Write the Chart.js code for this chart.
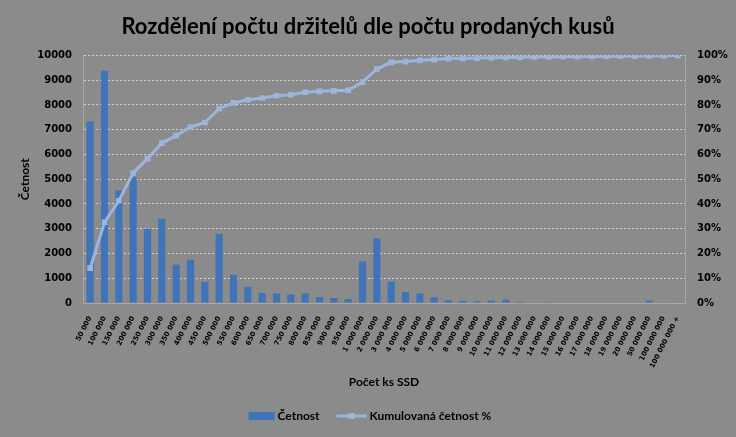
<!DOCTYPE html>
<html>
<head>
<meta charset="utf-8">
<script src="https://cdn.jsdelivr.net/npm/chart.js@4/dist/chart.umd.min.js"></script>
<style>
    html, body { margin: 0; padding: 0; background: #8b8b8b; }
    #wrap { width: 736px; height: 437px; }
    canvas { background: #8b8b8b; }
</style>
</head>
<body>
<div id="wrap"><canvas id="chart" width="736" height="437"></canvas></div>
<script>
// kategorie na ose x (počet ks SSD)
const categories = [
    '50 000', '100 000', '150 000', '200 000', '250 000', '300 000', '350 000',
    '400 000', '450 000', '500 000', '550 000', '600 000', '650 000', '700 000',
    '750 000', '800 000', '850 000', '900 000', '950 000', '1 000 000',
    '2 000 000', '3 000 000', '4 000 000', '5 000 000', '6 000 000', '7 000 000',
    '8 000 000', '9 000 000', '10 000 000', '11 000 000', '12 000 000', '13 000 000',
    '14 000 000', '15 000 000', '16 000 000', '17 000 000', '18 000 000', '19 000 000',
    '20 000 000', '50 000 000', '100 000 000', '100 000 000 +'
];

// četnost
const counts = [
    7330, 9380, 4540, 5080, 3000, 3400, 1550, 1750, 860, 2800, 1140, 660, 400, 380,
    340, 380, 240, 200, 160, 1680, 2600, 870, 440, 380, 230, 110, 90, 70, 100, 130,
    40, 30, 30, 25, 25, 25, 20, 20, 20, 100, 30, 20
];

// kumulovaná četnost v %
const cumulative = [
    14.1, 32.6, 41.3, 52.5, 58.3, 64.6, 67.6, 71.1, 72.9, 78.5, 80.8, 82.1, 82.8, 83.7,
    84.1, 85.1, 85.5, 85.7, 85.9, 89.2, 94.5, 97.2, 97.5, 98.0, 98.3, 98.7, 98.8, 98.9,
    99.1, 99.2, 99.3, 99.4, 99.4, 99.5, 99.5, 99.6, 99.6, 99.7, 99.7, 99.8, 99.9, 100
];

const colors = {
    bar: '#3f74b9',
    line: '#9bb5dd',
    grid: 'rgba(225,225,225,0.85)',
    axis: '#a8a8a8',
    text: '#000000'
};

const tickFont = { family: 'DejaVu Sans', size: 10, weight: 'bold' };
const labelFont = { family: 'Lato', size: 12, weight: 'bold' };

// legenda dole
const legendPlugin = {
    id: 'customLegend',
    afterDraw(chart) {
        const ctx = chart.ctx;
        const y = 416;
        ctx.save();
        ctx.font = 'bold 12px Lato';
        ctx.textBaseline = 'middle';
        ctx.fillStyle = colors.text;
        const t1 = chart.data.datasets[0].label;
        const t2 = chart.data.datasets[1].label;
        const w1 = ctx.measureText(t1).width;
        const w2 = ctx.measureText(t2).width;
        const total = 26 + 3 + w1 + 17 + 30 + 3 + w2;
        let x = chart.width / 2 + 2 - total / 2;
        ctx.fillStyle = colors.bar;
        ctx.fillRect(x, y - 4, 26, 8);
        x += 29;
        ctx.fillStyle = colors.text;
        ctx.fillText(t1, x, y);
        x += w1 + 17;
        ctx.strokeStyle = colors.line;
        ctx.lineWidth = 3;
        ctx.beginPath();
        ctx.moveTo(x, y);
        ctx.lineTo(x + 30, y);
        ctx.stroke();
        ctx.fillStyle = colors.line;
        ctx.fillRect(x + 12, y - 3, 6, 6);
        x += 33;
        ctx.fillStyle = colors.text;
        ctx.fillText(t2, x, y);
        ctx.restore();
    }
};

new Chart(document.getElementById('chart'), {
    data: {
        labels: categories,
        datasets: [{
            type: 'bar',
            label: 'Četnost',
            data: counts,
            yAxisID: 'y',
            backgroundColor: colors.bar,
            categoryPercentage: 1,
            barPercentage: 0.5,
            order: 2
        }, {
            type: 'line',
            label: 'Kumulovaná četnost %',
            data: cumulative,
            yAxisID: 'y2',
            borderColor: colors.line,
            backgroundColor: colors.line,
            borderWidth: 3,
            pointStyle: 'rect',
            pointRadius: 4,
            pointBorderWidth: 0,
            tension: 0,
            order: 1
        }]
    },
    options: {
        responsive: false,
        animation: false,
        layout: { padding: 0 },
        plugins: {
            legend: { display: false },
            tooltip: { enabled: false },
            title: {
                display: true,
                text: 'Rozdělení počtu držitelů dle počtu prodaných kusů',
                color: colors.text,
                font: { family: 'Lato', size: 22, weight: 'bold' },
                padding: { top: 14, bottom: 15 }
            }
        },
        scales: {
            x: {
                grid: { display: false },
                border: { display: true, color: colors.axis },
                ticks: {
                    color: colors.text,
                    font: { family: 'DejaVu Sans', size: 7, weight: 'bold' },
                    autoSkip: false,
                    minRotation: 63,
                    maxRotation: 63,
                    padding: 4
                },
                title: {
                    display: true,
                    text: 'Počet ks SSD',
                    color: colors.text,
                    font: labelFont,
                    padding: { top: 0, bottom: 48 }
                },
                afterFit(scale) { scale.height = 134; }
            },
            y: {
                type: 'linear',
                position: 'left',
                min: 0,
                max: 10000,
                ticks: {
                    stepSize: 1000,
                    color: colors.text,
                    font: tickFont,
                    padding: 11,
                    callback: v => String(v)
                },
                grid: { color: colors.grid, lineWidth: 1, drawTicks: false },
                border: { display: true, color: colors.axis, dash: [2, 2] },
                title: {
                    display: true,
                    text: 'Četnost',
                    color: colors.text,
                    font: labelFont,
                    padding: { top: 18, bottom: 0 }
                },
                afterFit(scale) { scale.width = 83; }
            },
            y2: {
                type: 'linear',
                position: 'right',
                min: 0,
                max: 100,
                grid: { drawOnChartArea: false, drawTicks: false },
                border: { display: true, color: colors.axis },
                ticks: {
                    stepSize: 10,
                    color: colors.text,
                    font: tickFont,
                    padding: 12,
                    callback: v => v + '%'
                },
                afterFit(scale) { scale.width = 51; }
            }
        }
    },
    plugins: [legendPlugin]
});
</script>
</body>
</html>
